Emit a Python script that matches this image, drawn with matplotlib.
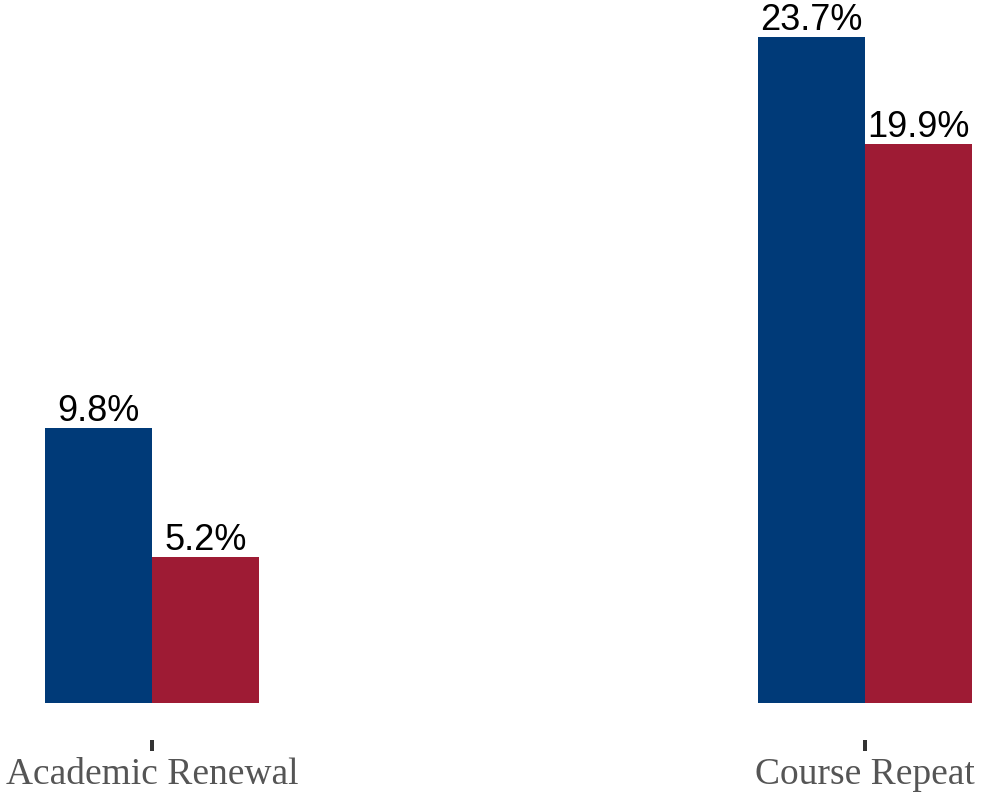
import matplotlib
matplotlib.use("Agg")
import matplotlib.pyplot as plt
import numpy as np

categories = ["Academic Renewal", "Course Repeat"]
series_a = [9.8, 23.7]
series_b = [5.2, 19.9]
colors = ["#003A78", "#9E1B34"]

W, H = 985, 797
fig = plt.figure(figsize=(W / 100, H / 100), dpi=100)
base_px = 703
ppu = 28.1
ax = fig.add_axes([0, (H - base_px) / H, 1, base_px / H])
ax.set_ylim(0, base_px / ppu)
scale = 713.0
ax.set_xlim(-152 / scale, (W - 152) / scale)

x = np.arange(len(categories))
w = 107 / scale
b1 = ax.bar(x - w / 2, series_a, width=w, color=colors[0])
b2 = ax.bar(x + w / 2, series_b, width=w, color=colors[1])

for bars, vals in ((b1, series_a), (b2, series_b)):
    for r, v in zip(bars, vals):
        ax.text(r.get_x() + r.get_width() / 2, v - 0.05, f"{v}%", ha="center", va="bottom",
                fontsize=26, family="Liberation Sans", color="black")

for s in ax.spines.values():
    s.set_visible(False)
ax.spines["bottom"].set_position(("outward", 37 * 72 / 100))
ax.set_yticks([])
ax.set_xticks(x)
ax.set_xticklabels(categories, family="Liberation Serif", fontsize=27, color="#555555")
ax.tick_params(axis="x", length=11 * 0.72, width=4 * 0.72, color="#333333", pad=5)

fig.savefig("out.png", dpi=100)
